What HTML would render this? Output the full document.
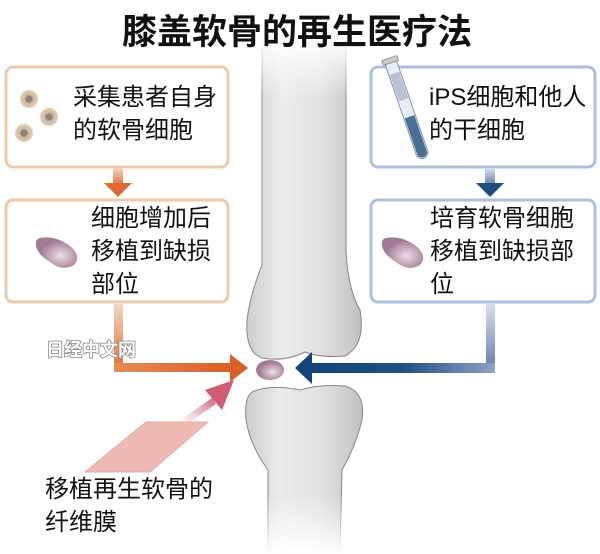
<!DOCTYPE html>
<html><head><meta charset="utf-8"><style>
html,body{margin:0;padding:0;background:#fff}
svg{display:block}
text{font-family:"Liberation Sans","Noto Sans CJK SC",sans-serif;fill:#111}
</style></head><body>
<svg width="600" height="554" viewBox="0 0 600 554" xmlns="http://www.w3.org/2000/svg">
<defs>
<linearGradient id="bone" x1="0" x2="1" y1="0" y2="0">
<stop offset="0" stop-color="#cdcdcd"/><stop offset="0.3" stop-color="#ececec"/><stop offset="0.65" stop-color="#e2e2e2"/><stop offset="1" stop-color="#c0c0c0"/></linearGradient>
<linearGradient id="boneTop" x1="0" x2="0" y1="0" y2="1"><stop offset="0" stop-color="#fff" stop-opacity="1"/><stop offset="0.2" stop-color="#fff" stop-opacity="0.9"/><stop offset="1" stop-color="#fff" stop-opacity="0"/></linearGradient>
<linearGradient id="boneBot" x1="0" x2="0" y1="0" y2="1"><stop offset="0" stop-color="#fff" stop-opacity="0"/><stop offset="1" stop-color="#fff" stop-opacity="1"/></linearGradient>
<linearGradient id="orV" x1="0" x2="0" y1="0" y2="1"><stop offset="0" stop-color="#f3d6c2"/><stop offset="1" stop-color="#e07a40"/></linearGradient>
<linearGradient id="orH" x1="0" x2="1"><stop offset="0" stop-color="#e88a55"/><stop offset="1" stop-color="#d85f25"/></linearGradient>
<linearGradient id="blV" x1="0" x2="0" y1="0" y2="1"><stop offset="0" stop-color="#d8e0ee"/><stop offset="1" stop-color="#6a84b0"/></linearGradient>
<linearGradient id="blH" x1="1" x2="0"><stop offset="0" stop-color="#8ea2c6"/><stop offset="0.5" stop-color="#1e4f82"/><stop offset="1" stop-color="#124478"/></linearGradient>
<linearGradient id="pk" x1="0" x2="1" y1="1" y2="0"><stop offset="0" stop-color="#f4d6dc" stop-opacity="0.3"/><stop offset="1" stop-color="#cc5a72"/></linearGradient>
<radialGradient id="cell"><stop offset="0.3" stop-color="#8f8272"/><stop offset="0.5" stop-color="#cdb9a2"/><stop offset="1" stop-color="#e6cfb2"/></radialGradient>
<radialGradient id="bean" cx="0.6" cy="0.6"><stop offset="0" stop-color="#ede0e6"/><stop offset="1" stop-color="#a27a96"/></radialGradient>
</defs>

<!-- femur -->
<path d="M262 40 Q300 34 346 40 L346 250 Q348 290 360 310 Q366 345 345 356 Q320 358 305 352 Q285 362 262 358 Q245 352 247 320 Q250 295 262 265 Z" fill="url(#bone)" stroke="#888" stroke-width="1"/>
<rect x="250" y="30" width="110" height="70" fill="url(#boneTop)"/>
<!-- tibia -->
<path d="M252 392 Q270 384 300 390 Q320 384 345 386 Q366 392 362 420 Q356 445 342 470 L340 554 L268 554 L268 470 Q250 445 246 420 Q244 398 252 392 Z" fill="url(#bone)" stroke="#888" stroke-width="1"/>
<rect x="250" y="495" width="120" height="59" fill="url(#boneBot)"/>
<!-- cartilage -->
<ellipse cx="270" cy="370" rx="14" ry="10" fill="url(#bean)"/>

<text x="297" y="44" font-size="35" font-weight="bold" text-anchor="middle">膝盖软骨的再生医疗法</text>

<!-- boxes -->
<rect x="6" y="67" width="222" height="100" rx="7" fill="#fff" stroke="#f0c9a8" stroke-width="3"/>
<rect x="6" y="200" width="222" height="102" rx="7" fill="#fff" stroke="#f0c9a8" stroke-width="3"/>
<rect x="371" y="67" width="224" height="100" rx="7" fill="#fff" stroke="#a9c1de" stroke-width="3"/>
<rect x="371" y="200" width="224" height="102" rx="7" fill="#fff" stroke="#a9c1de" stroke-width="3"/>

<!-- cells -->
<circle cx="29" cy="99" r="9" fill="url(#cell)"/>
<circle cx="49" cy="117" r="9" fill="url(#cell)"/>
<circle cx="24" cy="133" r="9" fill="url(#cell)"/>
<path d="M40 238 Q55 235 70 246 Q82 256 74 265 Q62 272 50 262 Q38 255 36 246 Q35 239 40 238Z" fill="url(#bean)"/>
<path d="M86 238 Q101 235 116 246 Q128 256 120 265 Q108 272 96 262 Q84 255 82 246 Q81 239 86 238Z" transform="translate(300,0)" fill="url(#bean)"/>

<!-- test tube -->
<g transform="translate(390,60) rotate(-19)">
<rect x="-8" y="-2" width="16" height="5" rx="1" fill="#ccc" stroke="#999"/>
<path d="M-6 3 L-6 100 Q0 108 6 100 L6 3 Z" fill="#e8edf3" stroke="#8896a8"/>
<rect x="-5" y="14" width="10" height="28" fill="#b8c4d6"/>
<path d="M-5 60 L5 60 L5 100 Q0 106 -5 100 Z" fill="#4a6f98"/>
</g>

<!-- text -->
<g font-size="24">
<text x="73" y="105">采集患者自身</text>
<text x="73" y="138">的软骨细胞</text>
<text x="91" y="226">细胞增加后</text>
<text x="91" y="259">移植到缺损</text>
<text x="91" y="292">部位</text>
<text x="429" y="105">iPS细胞和他人</text>
<text x="429" y="138">的干细胞</text>
<text x="430" y="226">培育软骨细胞</text>
<text x="430" y="259">移植到缺损部</text>
<text x="430" y="292">位</text>
<text x="45" y="497">移植再生软骨的</text>
<text x="45" y="530">纤维膜</text>
</g>

<!-- arrows left -->
<rect x="113" y="168" width="10" height="16" fill="url(#orV)"/>
<polygon points="104,183 132,183 118,197" fill="#dd6a30"/>
<rect x="114" y="304" width="9" height="60" fill="url(#orV)"/>
<rect x="114" y="363" width="120" height="9" fill="url(#orH)"/>
<polygon points="230,354 248,368 230,382" fill="#d85f25"/>
<!-- arrows right -->
<rect x="485" y="168" width="10" height="16" fill="url(#blV)"/>
<polygon points="476,183 504,183 490,197" fill="#1e4f82"/>
<rect x="486" y="304" width="9" height="62" fill="url(#blV)"/>
<rect x="308" y="363" width="187" height="10" fill="url(#blH)"/>
<polygon points="312,352 295,368 312,384" fill="#124478"/>
<!-- pink arrow -->
<polygon points="183,418 212,398 216,404 187,424" fill="url(#pk)"/>
<polygon points="205,390 234,380 222,410" fill="#cf5e75"/>
<polygon points="146,422 208,422 150,472 85,472" fill="#efb9b4" stroke="#e6a8a4" stroke-width="1"/>

<!-- watermark -->
<text x="46" y="356" font-size="18" font-weight="bold" style="fill:#fff;stroke:#8a7f80;stroke-width:1.5;paint-order:stroke">日经中文网</text>
</svg>
</body></html>
